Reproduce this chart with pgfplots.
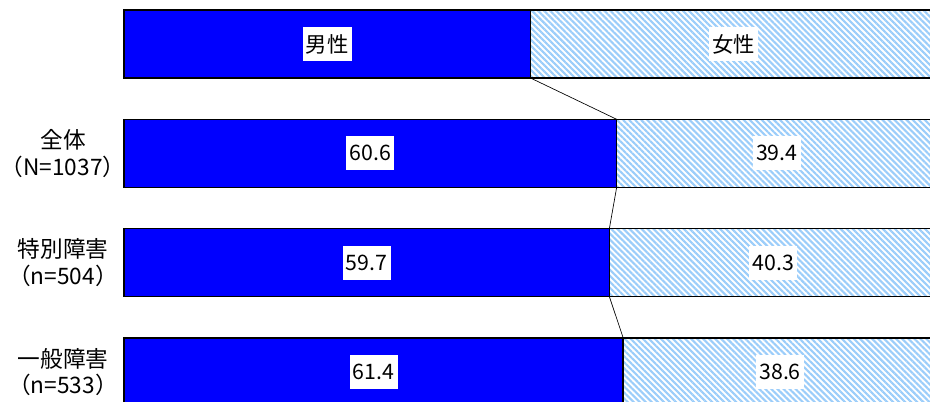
\documentclass[border=0pt]{standalone}
\usepackage{fontspec}
\setmainfont{Noto Sans CJK JP}
\usepackage{pgfplots}
\pgfplotsset{compat=1.18}
\usepackage{pgfplotstable}
\usetikzlibrary{patterns.meta}
\definecolor{hatchblue}{RGB}{155,205,250}

% bar values (row 0 = legend bar)
\pgfplotstableread{
y v
0 50
1 60.6
2 59.7
3 61.4
}\maletab
\pgfplotstableread{
y v
0 50
1 39.4
2 40.3
3 38.6
}\femaletab
% label positions (centre of each segment) and texts
\pgfplotstableread{
xc y lab
25 0 男性
75 0 女性
30.3 1 60.6
80.3 1 39.4
29.85 2 59.7
79.85 2 40.3
30.7 3 61.4
80.7 3 38.6
}\labtab

\begin{document}
\begin{tikzpicture}[font=\fontsize{17pt}{20pt}\selectfont]
\begin{axis}[
  x=6.0975pt, y=81.975pt, y dir=reverse,
  xmin=-2, xmax=99.14, ymin=-0.4026, ymax=3.275,
  xbar stacked, bar width=51pt,
  axis line style={draw=none}, major tick length=0pt, xtick=\empty,
  ytick={1,2,3},
  yticklabels={{全体\\（N=1037）},{特別障害\\（n=504）},{一般障害\\（n=533）}},
  yticklabel style={align=center, anchor=center, inner xsep=0pt, xshift=-33.5pt},
]
\addplot[fill=blue, draw=black, line width=1.2pt] table[x=v, y=y] {\maletab};
\addplot[pattern={Lines[angle=-45, distance=3.2pt, line width=1.6pt]}, pattern color=hatchblue, draw=black, line width=1.2pt] table[x=v, y=y] {\femaletab};
\coordinate (tl) at (axis cs:-15.25,-0.4026);
\coordinate (br) at (axis cs:99.14,3.275);
\end{axis}
\begin{axis}[
  x=6.0975pt, y=81.975pt, y dir=reverse,
  xmin=-2, xmax=99.14, ymin=-0.4026, ymax=3.275,
  hide axis,
]
\addplot[black, line width=0.5pt] coordinates {(50,0.311) (60.6,0.689)};
\addplot[black, line width=0.5pt] coordinates {(60.6,1.311) (59.7,1.689)};
\addplot[black, line width=0.5pt] coordinates {(59.7,2.311) (61.4,2.689)};
\addplot[only marks, mark=*, mark size=0pt, mark options={draw=none, fill=none},
  point meta=explicit symbolic, nodes near coords,
  nodes near coords style={anchor=center, fill=white, text=black, inner xsep=2.5pt, inner ysep=0pt, minimum height=25.5pt, font=\fontsize{16pt}{20pt}\selectfont}]
  table[x=xc, y=y, meta=lab] {\labtab};
\end{axis}
\pgfresetboundingbox
\useasboundingbox (tl) rectangle (br);
\end{tikzpicture}
\end{document}
